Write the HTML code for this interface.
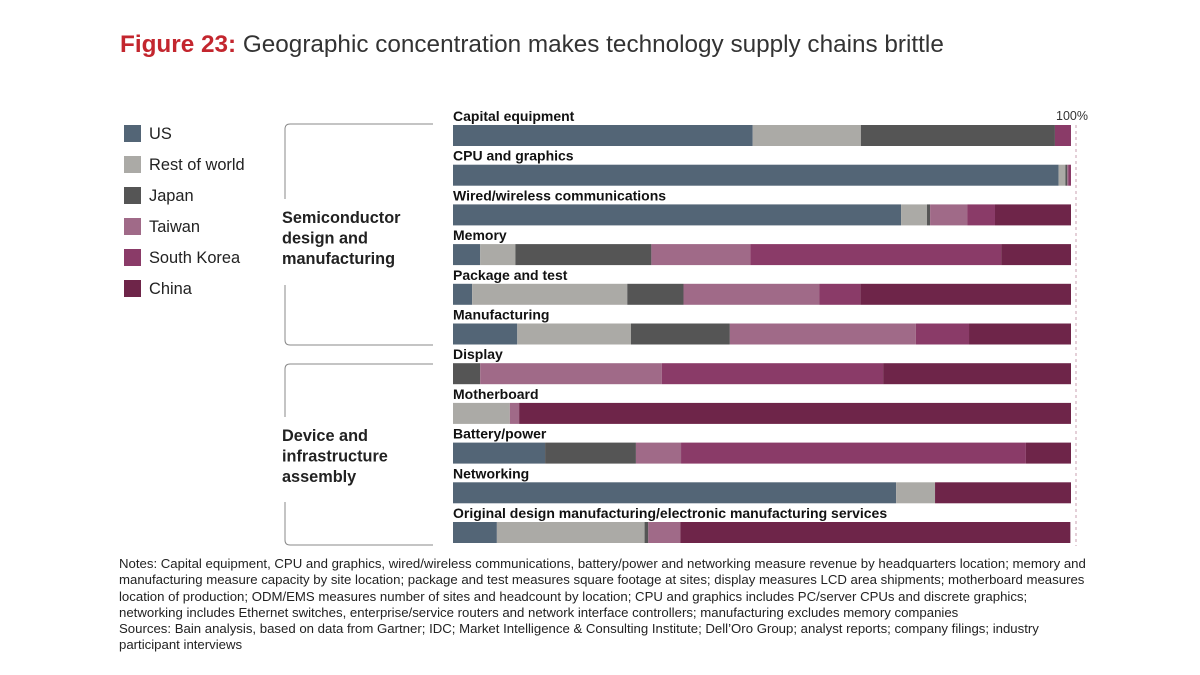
<!DOCTYPE html>
<html><head><meta charset="utf-8"><style>
body{margin:0;background:#fff;}
#root{position:relative;width:1200px;height:675px;overflow:hidden;font-family:"Liberation Sans",Arial,sans-serif;}
.title{position:absolute;left:120px;top:31px;font-size:24.3px;color:#333;white-space:nowrap;}
.title b{color:#c3262e;}
.notes{position:absolute;left:119px;top:556px;width:974px;font-size:13.2px;line-height:16.3px;color:#222;}
</style></head><body>
<div id="root">
<div class="title"><b>Figure 23:</b> Geographic concentration makes technology supply chains brittle</div>
<svg id="chart" width="1200" height="675" style="position:absolute;left:0;top:0"></svg>
<div class="notes">Notes: Capital equipment, CPU and graphics, wired/wireless communications, battery/power and networking measure revenue by headquarters location; memory and manufacturing measure capacity by site location; package and test measures square footage at sites; display measures LCD area shipments; motherboard measures location of production; ODM/EMS measures number of sites and headcount by location; CPU and graphics includes PC/server CPUs and discrete graphics; networking includes Ethernet switches, enterprise/service routers and network interface controllers; manufacturing excludes memory companies<br>Sources: Bain analysis, based on data from Gartner; IDC; Market Intelligence &amp; Consulting Institute; Dell’Oro Group; analyst reports; company filings; industry participant interviews</div>
</div>
<script>
const categories=["Capital equipment","CPU and graphics","Wired/wireless communications","Memory","Package and test","Manufacturing","Display","Motherboard","Battery/power","Networking","Original design manufacturing/electronic manufacturing services"];
const seriesNames=["US","Rest of world","Japan","Taiwan","South Korea","China"];
const usVals=[48.5,98,72.5,4.4,3.1,10.4,0,0,14.9,71.7,7.1];
const rowVals=[17.5,1.1,4.2,5.7,25.1,18.4,0,9.2,0,6.3,23.9];
const japanVals=[31.4,0.3,0.5,22,9.1,16,4.4,0,14.7,0,0.6];
const taiwanVals=[0,0.2,6,16,22,30.1,29.4,1.5,7.3,0,5.2];
const koreaVals=[2.6,0.4,4.5,40.6,6.6,8.6,35.8,0,55.8,0,0];
const chinaVals=[0,0,12.3,11.3,34.1,16.5,30.4,89.3,7.3,22,63.1];
const colors=["#536576","#abaaa6","#555555","#a06a88","#8a3b68","#6e2549"];
const NS="http://www.w3.org/2000/svg";
const svg=document.getElementById("chart");
function mk(t,a,p){const e=document.createElementNS(NS,t);for(const k in a)e.setAttribute(k,a[k]);(p||svg).appendChild(e);return e;}
const x0=453,x1=1071;
const xs=v=>x0+(x1-x0)*v/100;
const ys=i=>125+i*39.7;
const all=[usVals,rowVals,japanVals,taiwanVals,koreaVals,chinaVals];
categories.forEach((c,i)=>{
  const t=mk("text",{x:453,y:ys(i)-4,"font-size":"14","font-weight":"bold",fill:"#111"});
  t.textContent=c;
  
  
  let cum=0;
  all.forEach((s,j)=>{
    const v=s[i];
    if(v>0){
      const r=mk("rect",{x:xs(cum),y:ys(i),width:xs(cum+v)-xs(cum),height:21,fill:colors[j]});
      
      
    }
    cum+=v;
  });
});
const dl=mk("line",{x1:1076,y1:125,x2:1076,y2:546,stroke:"#c8a0b0","stroke-width":1,"stroke-dasharray":"3,3"});


const pt=mk("text",{x:1056,y:120,"font-size":"12.5",fill:"#333"});
pt.textContent="100%";


seriesNames.forEach((n,j)=>{
  const y=125+j*31;
  const r=mk("rect",{x:124,y:y,width:17,height:17,fill:colors[j]});
  
  
  const t=mk("text",{x:149,y:y+14,"font-size":"16.4",fill:"#222"});
  t.textContent=n;
  
  
});
function bracket(top,g1,g2,bot,name){
  const p=mk("path",{d:`M433 ${top} H290 Q285 ${top} 285 ${top+5} V${g1} M285 ${g2} V${bot-5} Q285 ${bot} 290 ${bot} H433`,fill:"none",stroke:"#888","stroke-width":1});
  
  
}
bracket(124,199,285,345,'semiconductor-bracket');
bracket(364,417,502,545,'assembly-bracket');
function group(lines,y0,name){
  lines.forEach((l,k)=>{
    const t=mk("text",{x:282,y:y0+k*20.5,"font-size":"16.3","font-weight":"bold",fill:"#222"});
    t.textContent=l;
    
    
  });
}
group(["Semiconductor","design and","manufacturing"],223,'semiconductor-group-label');
group(["Device and","infrastructure","assembly"],441,'assembly-group-label');
</script>
</body></html>
